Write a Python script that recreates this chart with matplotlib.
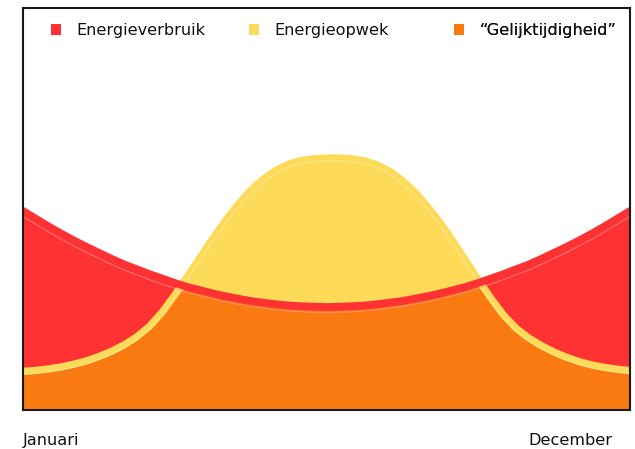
import numpy as np
import matplotlib
matplotlib.use("Agg")
import matplotlib.pyplot as plt
from matplotlib.patches import Patch
from matplotlib import transforms

# ---- data (relative energy units 0-100) ----
periode = list(range(49))  # Januari .. December
energieverbruik = [49.5, 47.6, 45.7, 43.9, 42.2, 40.6, 39.1, 37.6, 36.2, 35.0, 33.8, 32.7, 31.6,
                   30.6, 29.8, 29.0, 28.3, 27.7, 27.1, 26.7, 26.3, 26.0, 25.8, 25.7, 25.6,
                   25.7, 25.8, 26.0, 26.3, 26.7, 27.1, 27.7, 28.3, 29.0, 29.8, 30.6, 31.6,
                   32.7, 33.8, 35.0, 36.2, 37.6, 39.1, 40.6, 42.2, 43.9, 45.7, 47.6, 49.5]
energieopwek = [9.63, 9.84, 10.22, 10.70, 11.39, 12.2, 13.3, 14.6, 16.2, 18.2, 20.8, 24.3,
                28.6, 33.2, 37.95, 42.63, 47.05, 51.10, 54.58, 57.44, 59.62, 61.15, 62.08,
                62.52, 62.68, 62.68, 62.50, 61.99, 60.97, 59.38, 57.10, 54.17, 50.58, 46.50,
                42.00, 37.2, 32.4, 27.8, 23.6, 20.3, 17.9, 16.0, 14.4, 13.1, 12.0,
                11.2, 10.6, 10.16, 9.79]
labels = ["Energieverbruik", "Energieopwek", "\u201cGelijktijdigheid\u201d"]
x_labels = ["Januari", "December"]

RED = "#FE3232"
YELLOW = "#FDDA57"
ORANGE = "#FA7A12"

plt.rcParams["font.family"] = ["DejaVu Sans"]

x = np.array(periode, dtype=float)
r = np.array(energieverbruik)
y = np.array(energieopwek)

fig = plt.figure(figsize=(6.35, 4.49), dpi=100)
ax = fig.add_axes([23 / 635, 39 / 449, 607 / 635, 402 / 449])

# fills
ax.fill_between(x, 0, np.minimum(r, y), color=ORANGE, lw=0, zorder=1)
ax.fill_between(x, y, r, where=r >= y, interpolate=True, color=RED, lw=0, zorder=1)
ax.fill_between(x, r, y, where=y >= r, interpolate=True, color=YELLOW, lw=0, zorder=1)

# lines
ax.plot(x, y, color=YELLOW, lw=5.2, solid_capstyle="butt", solid_joinstyle="round", zorder=3)
hl_y = transforms.offset_copy(ax.transData, fig=fig, x=0, y=-3, units="dots")
ax.plot(x, y, color="#FFEFA8", lw=0.6, alpha=0.8, transform=hl_y, zorder=3.5)
ax.plot(x, r, color=RED, lw=5.6, solid_capstyle="round", solid_joinstyle="round", zorder=4)
hl_r = transforms.offset_copy(ax.transData, fig=fig, x=0, y=-5.5, units="dots")
ax.plot(x, r, color="#FF9A9A", lw=0.6, alpha=0.8, transform=hl_r, zorder=4.5)

ax.set_xlim(0, 48)
ax.set_ylim(0, 100)
ax.set_xticks([])
ax.set_yticks([])
for s in ax.spines.values():
    s.set_linewidth(1.5)
    s.set_color("#1a1a1a")
    s.set_zorder(6)

# legend entries
colors = [RED, YELLOW, ORANGE]
xpos = [(51 - 23) / 607, (249 - 23) / 607, (454 - 23) / 607]
for lab, c, xp in zip(labels, colors, xpos):
    leg = ax.legend(handles=[Patch(facecolor=c, edgecolor="none", label=lab)],
                    loc="center left", bbox_to_anchor=(xp, (410 - 30.5) / 402),
                    frameon=False, fontsize=11.6, handlelength=0.62, handleheight=0.62,
                    handletextpad=0.95, borderpad=0, borderaxespad=0)
    for t in leg.get_texts():
        t.set_color("#111111")
    ax.add_artist(leg)

ax.text(0, -0.075, x_labels[0], transform=ax.transAxes, ha="left", va="center",
        fontsize=11.6, color="#111111")
ax.text((612 - 23) / 607, -0.075, x_labels[1], transform=ax.transAxes, ha="right",
        va="center", fontsize=11.6, color="#111111")

fig.savefig("out.png", dpi=100)
